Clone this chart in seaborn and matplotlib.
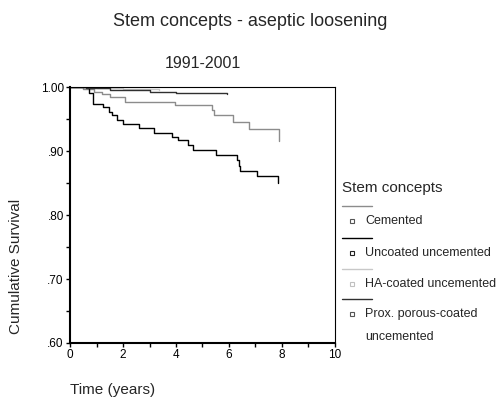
import numpy as np
import pandas as pd
import matplotlib
matplotlib.use('Agg')
import matplotlib.pyplot as plt
import seaborn as sns
from matplotlib.lines import Line2D

# Kaplan-Meier step points
groups = ['Cemented', 'Uncoated uncemented', 'HA-coated uncemented',
          'Prox. porous-coated uncemented']

cem_t = [0, 0.5, 0.9, 1.2, 1.5, 2.07, 3.96, 5.35, 5.42, 6.14, 6.77, 7.89]
cem_s = [1.0, 0.997, 0.993, 0.989, 0.984, 0.977, 0.972, 0.964, 0.957, 0.946, 0.934, 0.916]

unc_t = [0, 0.72, 0.88, 1.26, 1.48, 1.57, 1.76, 2.01, 2.60, 3.18, 3.84, 4.09,
         4.47, 4.63, 5.51, 6.29, 6.36, 6.40, 7.04, 7.86]
unc_s = [1.0, 0.991, 0.974, 0.969, 0.961, 0.956, 0.948, 0.942, 0.936, 0.929, 0.922,
         0.917, 0.909, 0.902, 0.894, 0.886, 0.877, 0.869, 0.861, 0.850]

ha_t = [0, 1.0, 2.0, 3.37]
ha_s = [1.0, 0.999, 0.997, 0.996]

prox_t = [0, 0.6, 1.0, 1.5, 2.2, 3.0, 4.0, 5.91]
prox_s = [1.0, 0.999, 0.998, 0.996, 0.995, 0.993, 0.990, 0.989]

colors = ['#8c8c8c', '#000000', '#c8c8c8', '#303030']

frames = []
for g, t, s in zip(groups, [cem_t, unc_t, ha_t, prox_t], [cem_s, unc_s, ha_s, prox_s]):
    frames.append(pd.DataFrame({'time': t, 'survival': s, 'group': g}))
df = pd.concat(frames, ignore_index=True)

sns.set_style('ticks')
plt.rcParams['font.family'] = ['Liberation Sans', 'DejaVu Sans']

fig = plt.figure(figsize=(4.99, 4.03), dpi=100)
ax = fig.add_axes([0.1403, 0.1489, 0.531, 0.635])

sns.lineplot(data=df, x='time', y='survival', hue='group', hue_order=groups,
             palette=colors, drawstyle='steps-post', estimator=None,
             legend=False, linewidth=1.0, ax=ax)

ax.set_xlim(0, 10)
ax.set_ylim(0.60, 1.00)
ax.set_xticks(np.arange(0, 11, 1))
ax.set_xticklabels([str(i) if i % 2 == 0 else '' for i in range(11)])
yt = np.round(np.arange(0.60, 1.001, 0.05), 2)
ax.set_yticks(yt)
ylabs = []
for v in yt:
    if abs(v * 10 - round(v * 10)) < 1e-6:
        ylabs.append('1.00' if v == 1.0 else ('%.2f' % v)[1:])
    else:
        ylabs.append('')
ax.set_yticklabels(ylabs)
ax.tick_params(labelsize=8.5, length=3, width=1, pad=1.5, colors='black')
for sp in ax.spines.values():
    sp.set_visible(True)
    sp.set_color('black')
    sp.set_linewidth(0.8)
ax.spines['left'].set_linewidth(1.5)
ax.spines['bottom'].set_linewidth(1.5)
ax.set_xlabel('')
ax.set_ylabel('')

W, H = 499.0, 403.0
fig.text(0.501, 1 - 22 / H, 'Stem concepts - aseptic loosening', ha='center', va='center', fontsize=13)
fig.text(0.406, 1 - 63 / H, '1991-2001', ha='center', va='center', fontsize=11.5)
fig.text(70 / W, 1 - 390 / H, 'Time (years)', ha='left', va='center', fontsize=11)
fig.text(16 / W, 1 - 266 / H, 'Cumulative Survival', ha='center', va='center',
         rotation=90, fontsize=11)

# legend in SPSS style: a line then a small square with the label
fig.text(342 / W, 1 - 188 / H, 'Stem concepts', ha='left', va='center', fontsize=11)
line_y = [206, 238, 269, 299]
lab_y = [220.5, 252.5, 284, 314]
mk_col = ['#555555', '#222222', '#c0c0c0', '#555555']
for i, g in enumerate(groups):
    fig.add_artist(Line2D([342 / W, 372 / W], [1 - line_y[i] / H] * 2,
                          color=colors[i], linewidth=1.0, transform=fig.transFigure))
    fig.add_artist(Line2D([351.5 / W], [1 - lab_y[i] / H], marker='s', markersize=3,
                          markerfacecolor='white', markeredgecolor=mk_col[i],
                          markeredgewidth=0.8, linestyle='none', transform=fig.transFigure))
    if i == 3:
        fig.text(365 / W, 1 - 314 / H, 'Prox. porous-coated', ha='left', va='center', fontsize=9)
        fig.text(365 / W, 1 - 337 / H, 'uncemented', ha='left', va='center', fontsize=9)
    else:
        fig.text(365 / W, 1 - lab_y[i] / H, g, ha='left', va='center', fontsize=9)

fig.savefig('out.png', dpi=100)
